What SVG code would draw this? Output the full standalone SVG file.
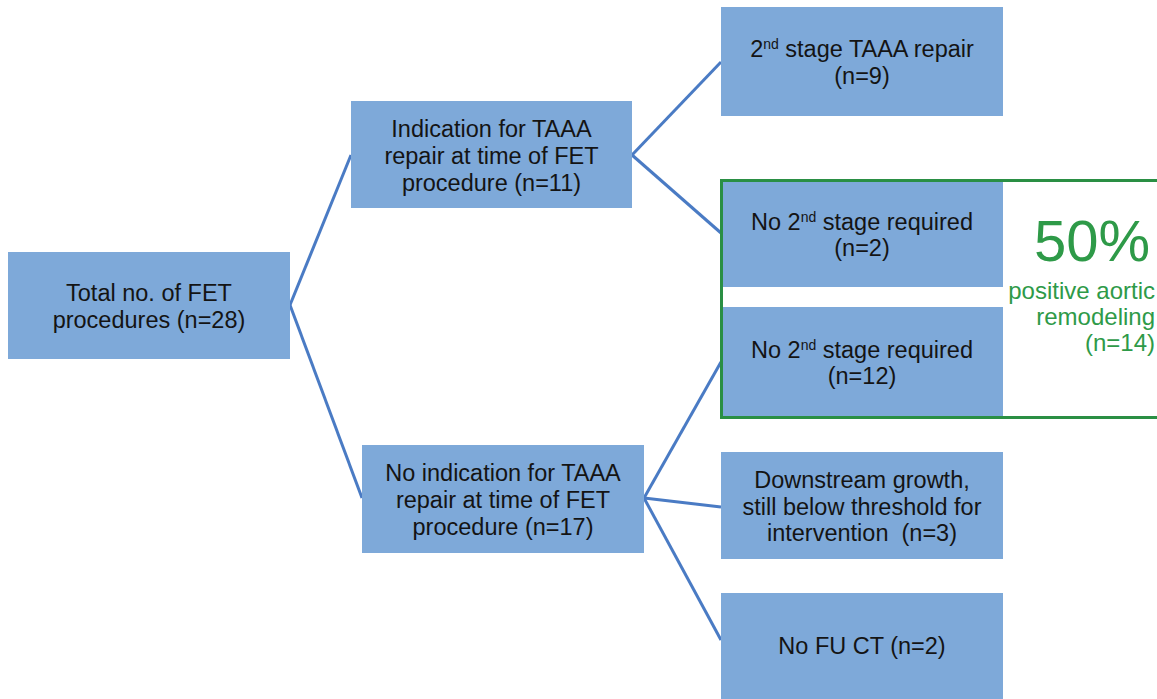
<svg xmlns="http://www.w3.org/2000/svg" width="1157" height="699" viewBox="0 0 1157 699">
<style>
.box{fill:#7EA9D9;}
.t{font-family:"Liberation Sans",Arial,sans-serif;font-size:23.5px;fill:#141414;text-anchor:middle;}
.g{font-family:"Liberation Sans",Arial,sans-serif;fill:#2E9A48;text-anchor:end;}
.sup{font-size:14px;}
.conn line{stroke:#4A7BC4;stroke-width:3;fill:none;}
</style>
<rect width="1157" height="699" fill="#ffffff"/>
<g id="connectors" class="conn">
<line x1="290" y1="305" x2="351" y2="155"/>
<line x1="290" y1="305" x2="362" y2="498"/>
<line x1="632" y1="155" x2="721" y2="62"/>
<line x1="632" y1="155" x2="721" y2="233"/>
<line x1="644" y1="498" x2="721" y2="362"/>
<line x1="644" y1="498" x2="721" y2="507"/>
<line x1="644" y1="498" x2="721" y2="640"/>
</g>
<g id="total">
<rect class="box" x="8" y="252" width="282" height="107"/>
<text class="t" x="149" y="301">Total no. of FET</text>
<text class="t" x="149" y="328">procedures (n=28)</text>
</g>
<g id="indication">
<rect class="box" x="351" y="101" width="281" height="107"/>
<text class="t" x="491.5" y="136.5">Indication for TAAA</text>
<text class="t" x="491.5" y="163.5">repair at time of FET</text>
<text class="t" x="491.5" y="190.5">procedure (n=11)</text>
</g>
<g id="second-stage">
<rect class="box" x="721" y="7" width="282" height="109"/>
<text class="t" x="862" y="57">2<tspan class="sup" dy="-8">nd</tspan><tspan dy="8"> stage TAAA repair</tspan></text>
<text class="t" x="862" y="83.5">(n=9)</text>
</g>
<g id="no-second-stage-2">
<rect class="box" x="721" y="180" width="282" height="107"/>
<text class="t" x="862" y="229.5">No 2<tspan class="sup" dy="-8">nd</tspan><tspan dy="8"> stage required</tspan></text>
<text class="t" x="862" y="256">(n=2)</text>
</g>
<g id="no-second-stage-12">
<rect class="box" x="721" y="307" width="282" height="111"/>
<text class="t" x="862" y="357.5">No 2<tspan class="sup" dy="-8">nd</tspan><tspan dy="8"> stage required</tspan></text>
<text class="t" x="862" y="384">(n=12)</text>
</g>
<g id="remodeling">
<rect x="721.5" y="180.5" width="445" height="237" fill="none" stroke="#2A8F44" stroke-width="3"/>
<text class="g" x="1150" y="261" font-size="58">50%</text>
<text class="g" x="1155" y="299" font-size="24">positive aortic</text>
<text class="g" x="1155" y="325" font-size="24">remodeling</text>
<text class="g" x="1155" y="351" font-size="24">(n=14)</text>
</g>
<g id="no-indication">
<rect class="box" x="362" y="445" width="282" height="108"/>
<text class="t" x="503" y="480.5">No indication for TAAA</text>
<text class="t" x="503" y="507.5">repair at time of FET</text>
<text class="t" x="503" y="534.5">procedure (n=17)</text>
</g>
<g id="downstream">
<rect class="box" x="721" y="452" width="282" height="107"/>
<text class="t" x="862" y="487.5">Downstream growth,</text>
<text class="t" x="862" y="514.5">still below threshold for</text>
<text class="t" x="862" y="541" xml:space="preserve" style="white-space:pre">intervention  (n=3)</text>
</g>
<g id="no-fu-ct">
<rect class="box" x="721" y="593" width="282" height="106"/>
<text class="t" x="862" y="653.5">No FU CT (n=2)</text>
</g>
</svg>
